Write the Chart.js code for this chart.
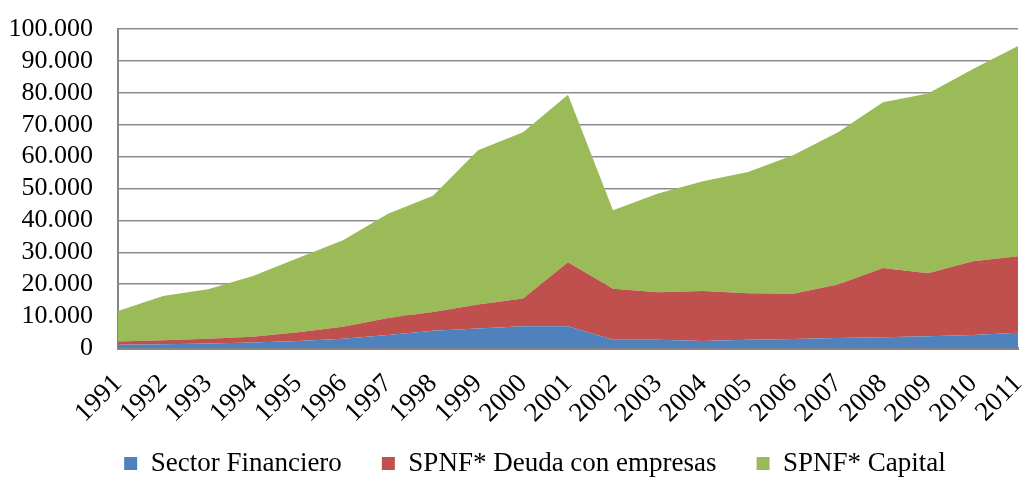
<!DOCTYPE html>
<html>
<head>
<meta charset="utf-8">
<script src="https://cdn.jsdelivr.net/npm/chart.js@4"></script>
<style>
  html, body { margin: 0; padding: 0; background: #fff; }
  #wrap { width: 1023px; height: 477px; }
</style>
</head>
<body>
<div id="wrap"><canvas id="chart-1"></canvas></div>
<script>
let years = ['1991', '1992', '1993', '1994', '1995', '1996', '1997', '1998', '1999', '2000', '2001',
             '2002', '2003', '2004', '2005', '2006', '2007', '2008', '2009', '2010', '2011'];

let financiero = [1000, 1200, 1400, 1700, 2200, 2900, 4100, 5400, 6100, 6800, 6800,
                  2600, 2600, 2200, 2600, 2800, 3100, 3400, 3700, 4100, 4800];
let deuda = [1000, 1200, 1500, 1800, 2700, 3800, 5300, 5900, 7500, 8700, 20100,
             16000, 14900, 15700, 14600, 14200, 16800, 21700, 19700, 23100, 24000];
let capital = [9600, 13900, 15500, 19100, 23300, 27100, 32700, 36400, 48400, 52100, 52500,
               24600, 30900, 34400, 38000, 43400, 47700, 51900, 56400, 60300, 65900];

let yTicks = [0, 10000, 20000, 30000, 40000, 50000, 60000, 70000, 80000, 90000, 100000];

function fmt(v) {
    return v.toString().replace(/\B(?=(\d{3})+(?!\d))/g, '.');
}

// the legend sits a bit right of centre and up into the label space in the original
let legendShift = {
    id: 'legendShift',
    afterLayout(chart) {
        chart.legend.left += 26;
        chart.legend.right += 26;
        chart.legend.top -= 14;
        chart.legend.bottom -= 14;
    }
};

let chart_1 = document.getElementById('chart-1');

new Chart(chart_1, {
    type: 'line',
    data: {
        labels: years,
        datasets: [{
            label: 'Sector Financiero',
            data: financiero,
            backgroundColor: '#4F81BD',
            borderColor: '#4F81BD',
            fill: 'origin'
        }, {
            label: 'SPNF* Deuda con empresas',
            data: deuda,
            backgroundColor: '#C0504D',
            borderColor: '#C0504D',
            fill: '-1'
        }, {
            label: 'SPNF* Capital',
            data: capital,
            backgroundColor: '#9BBB59',
            borderColor: '#9BBB59',
            fill: '-1'
        }]
    },
    plugins: [legendShift],
    options: {
        responsive: true,
        maintainAspectRatio: false,
        animation: false,
        elements: {
            point: { radius: 0, hoverRadius: 0 },
            line: { borderWidth: 0, tension: 0 }
        },
        layout: { padding: { top: 29, right: 5, left: 0, bottom: -24 } },
        plugins: {
            tooltip: { enabled: false },
            legend: {
                position: 'bottom',
                labels: {
                    color: '#000',
                    boxWidth: 13,
                    boxHeight: 13,
                    padding: 40,
                    font: { family: 'Liberation Serif', size: 27 }
                }
            }
        },
        scales: {
            x: {
                offset: false,
                afterFit: axis => {
                    axis.height = 76;
                    axis.paddingRight = 0;
                },
                grid: { display: false, drawTicks: false },
                border: { color: '#868686', width: 3 },
                ticks: {
                    color: '#000',
                    maxRotation: 45,
                    minRotation: 45,
                    autoSkip: false,
                    padding: 20,
                    font: { family: 'Liberation Serif', size: 27 }
                }
            },
            y: {
                stacked: true,
                min: 0,
                max: 100000,
                afterFit: axis => {
                    axis.width = 118;
                    axis.paddingTop = 0;
                    axis.paddingBottom = 0;
                },
                afterBuildTicks: axis => { axis.ticks = yTicks.map(v => ({ value: v })); },
                grid: { color: '#8c8c8c', lineWidth: 1.5, drawTicks: false },
                border: { color: '#868686', width: 2 },
                ticks: {
                    color: '#000',
                    padding: 25,
                    autoSkip: false,
                    callback: v => fmt(v),
                    font: { family: 'Liberation Serif', size: 26 }
                }
            }
        }
    }
});
</script>
</body>
</html>
